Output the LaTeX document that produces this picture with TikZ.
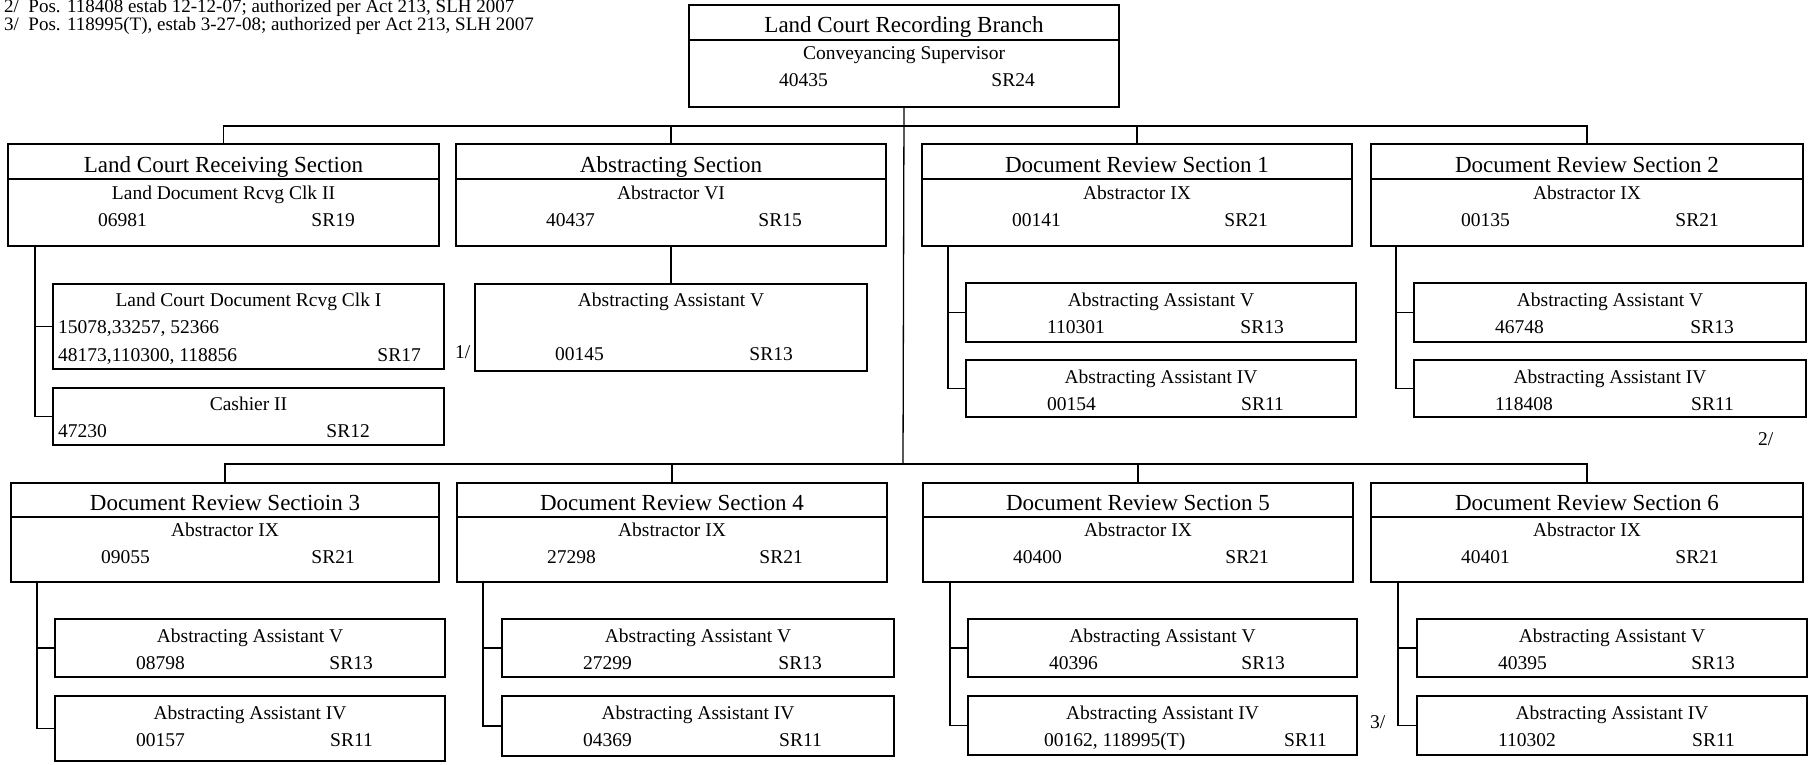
\documentclass[tikz,border=0pt]{standalone}
\usepackage{fontspec}
\setmainfont{Liberation Serif}
\tikzset{
  box/.style={draw, line width=1.4pt, rectangle, inner sep=0pt, outer sep=0pt, anchor=north west},
  head/.style={font=\fontsize{23}{26}\selectfont, inner sep=0pt, anchor=base},
  txt/.style={font=\fontsize{19.5}{22}\selectfont, inner sep=0pt},
  note/.style={font=\fontsize{19}{21}\selectfont, inner sep=0pt, anchor=base west},
  link/.style={line width=1.3pt},
}
\def\dvy{35}\def\hdy{28}\def\tty{55}\def\nny{82}
\newcommand\secbox[9]{%
  \node[box, minimum width=#4pt, minimum height=#5pt] (#1) at (#2,#3) {};
  \draw[link] ([yshift=-\dvy pt]#1.north west) -- ([yshift=-\dvy pt]#1.north east);
  \node[head] (#1h) at ([yshift=-\hdy pt]#1.north) {#6};
  \node[txt, anchor=base] (#1t) at ([yshift=-\tty pt]#1.north) {#7};
  \node[txt, anchor=base west] (#1n) at ([xshift=90pt,yshift=-\nny pt]#1.north west) {#8};
  \node[txt, anchor=base east] (#1c) at ([xshift=-84pt,yshift=-\nny pt]#1.north east) {#9};
}
\newcommand\subbox[8]{%
  \node[box, minimum width=#4pt, minimum height=#5pt] (#1) at (#2,#3) {};
  \node[txt, anchor=base] (#1t) at ([yshift=-23pt]#1.north) {#6};
  \node[txt, anchor=base west] (#1n) at ([xshift=81pt,yshift=-50pt]#1.north west) {#7};
  \node[txt, anchor=base east] (#1c) at ([xshift=-72pt,yshift=-50pt]#1.north east) {#8};
}
\begin{document}
\begin{tikzpicture}[x=1pt, y=-1pt]
\useasboundingbox (0,0) rectangle (1812,765);

% footnotes
\node[note] (fn2) at (4,13) {2/\ \ Pos. 118408 estab 12-12-07; authorized per Act 213, SLH 2007};
\node[note] (fn3) at (4,31) {3/\ \ Pos. 118995(T), estab 3-27-08; authorized per Act 213, SLH 2007};

% top box
\secbox{top}{689}{5}{430}{102}{Land Court Recording Branch}{Conveyancing Supervisor}{40435}{SR24}

% row 1
\secbox{LCR}{8}{144}{431}{102}{Land Court Receiving Section}{Land Document Rcvg Clk II}{06981}{SR19}
\secbox{ABS}{456}{144}{430}{102}{Abstracting Section}{Abstractor VI}{40437}{SR15}
\secbox{DRa}{922}{144}{430}{102}{Document Review Section 1}{Abstractor IX}{00141}{SR21}
\secbox{DRb}{1371}{144}{432}{102}{Document Review Section 2}{Abstractor IX}{00135}{SR21}

% row 2
\def\dvy{34}\def\hdy{27}\def\tty{53}\def\nny{80}
\secbox{DRc}{11}{483}{428}{99}{Document Review Sectioin 3}{Abstractor IX}{09055}{SR21}
\secbox{DRd}{457}{483}{430}{99}{Document Review Section 4}{Abstractor IX}{27298}{SR21}
\secbox{DRe}{923}{483}{430}{99}{Document Review Section 5}{Abstractor IX}{40400}{SR21}
\secbox{DRf}{1371}{483}{432}{99}{Document Review Section 6}{Abstractor IX}{40401}{SR21}

% Land Court Receiving children
\node[box, minimum width=391pt, minimum height=85pt] (LCa) at (53,284) {};
\node[txt, anchor=base] (LCat) at ([yshift=-22pt]LCa.north) {Land Court Document Rcvg Clk I};
\node[txt, anchor=base west] (LCan) at ([xshift=5pt,yshift=-49pt]LCa.north west) {15078,33257, 52366};
\node[txt, anchor=base west] (LCam) at ([xshift=5pt,yshift=-77pt]LCa.north west) {48173,110300, 118856};
\node[txt, anchor=base east] (LCac) at ([xshift=-23pt,yshift=-77pt]LCa.north east) {SR17};

\node[box, minimum width=391pt, minimum height=57pt] (LCb) at (53,388) {};
\node[txt, anchor=base] (LCbt) at ([yshift=-22pt]LCb.north) {Cashier II};
\node[txt, anchor=base west] (LCbn) at ([xshift=5pt,yshift=-49pt]LCb.north west) {47230};
\node[txt, anchor=base east] (LCbc) at ([xshift=-74pt,yshift=-49pt]LCb.north east) {SR12};

% Abstracting child
\node[box, minimum width=392pt, minimum height=87pt] (ABa) at (475,284) {};
\node[txt, anchor=base] (ABat) at ([yshift=-22pt]ABa.north) {Abstracting Assistant V};
\node[txt, anchor=base west] (ABan) at ([xshift=80pt,yshift=-76pt]ABa.north west) {00145};
\node[txt, anchor=base east] (ABac) at ([xshift=-74pt,yshift=-76pt]ABa.north east) {SR13};

% DR1 / DR2 children
\subbox{DRaA}{966}{283}{390}{59}{Abstracting Assistant V}{110301}{SR13}
\subbox{DRaB}{966}{360}{390}{57}{Abstracting Assistant IV}{00154}{SR11}
\subbox{DRbA}{1414}{283}{392}{59}{Abstracting Assistant V}{46748}{SR13}
\subbox{DRbB}{1414}{360}{392}{57}{Abstracting Assistant IV}{118408}{SR11}

% row 2 children
\subbox{DRcA}{55}{619}{390}{58}{Abstracting Assistant V}{08798}{SR13}
\subbox{DRcB}{55}{696}{390}{65}{Abstracting Assistant IV}{00157}{SR11}
\subbox{DRdA}{502}{619}{392}{58}{Abstracting Assistant V}{27299}{SR13}
\subbox{DRdB}{502}{696}{392}{60}{Abstracting Assistant IV}{04369}{SR11}
\subbox{DReA}{968}{619}{389}{58}{Abstracting Assistant V}{40396}{SR13}
\node[box, minimum width=389pt, minimum height=59pt] (DReB) at (968,696) {};
\node[txt, anchor=base] (DReBt) at ([yshift=-23pt]DReB.north) {Abstracting Assistant IV};
\node[txt, anchor=base west] (DReBn) at ([xshift=76pt,yshift=-50pt]DReB.north west) {00162, 118995(T)};
\node[txt, anchor=base east] (DReBc) at ([xshift=-30pt,yshift=-50pt]DReB.north east) {SR11};
\subbox{DRfA}{1417}{619}{390}{58}{Abstracting Assistant V}{40395}{SR13}
\subbox{DRfB}{1417}{696}{390}{59}{Abstracting Assistant IV}{110302}{SR11}

% footnote markers
\node[txt, anchor=base west] (m1) at (455,358) {1/};
\node[txt, anchor=base west] (m2) at (1758,445) {2/};
\node[txt, anchor=base west] (m3) at (1370,728) {3/};

% connectors
\coordinate (b1) at (903,126);
\coordinate (b2) at (903,464);
\draw[link] (top.south) -- (b2);
\draw[link] (LCR.north) |- (b1) -| (DRb.north);
\draw[link] (ABS.north) -- (ABS.north |- b1);
\draw[link] (DRa.north) -- (DRa.north |- b1);
\draw[link] (DRc.north) |- (b2) -| (DRf.north);
\draw[link] (DRd.north) -- (DRd.north |- b2);
\draw[link] (DRe.north) -- (DRe.north |- b2);

\draw[link] ([xshift=27pt]LCR.south west) |- (LCa.west);
\draw[link] ([xshift=27pt]LCR.south west) |- (LCb.west);
\draw[link] (ABS.south) -- (ABa.north);
\draw[link] ([xshift=26pt]DRa.south west) |- (DRaA.west);
\draw[link] ([xshift=26pt]DRa.south west) |- (DRaB.west);
\draw[link] ([xshift=25pt]DRb.south west) |- (DRbA.west);
\draw[link] ([xshift=25pt]DRb.south west) |- (DRbB.west);
\draw[link] ([xshift=26pt]DRc.south west) |- (DRcA.west);
\draw[link] ([xshift=26pt]DRc.south west) |- (DRcB.west);
\draw[link] ([xshift=26pt]DRd.south west) |- (DRdA.west);
\draw[link] ([xshift=26pt]DRd.south west) |- (DRdB.west);
\draw[link] ([xshift=27pt]DRe.south west) |- (DReA.west);
\draw[link] ([xshift=27pt]DRe.south west) |- (DReB.west);
\draw[link] ([xshift=27pt]DRf.south west) |- (DRfA.west);
\draw[link] ([xshift=27pt]DRf.south west) |- (DRfB.west);
\end{tikzpicture}
\end{document}
